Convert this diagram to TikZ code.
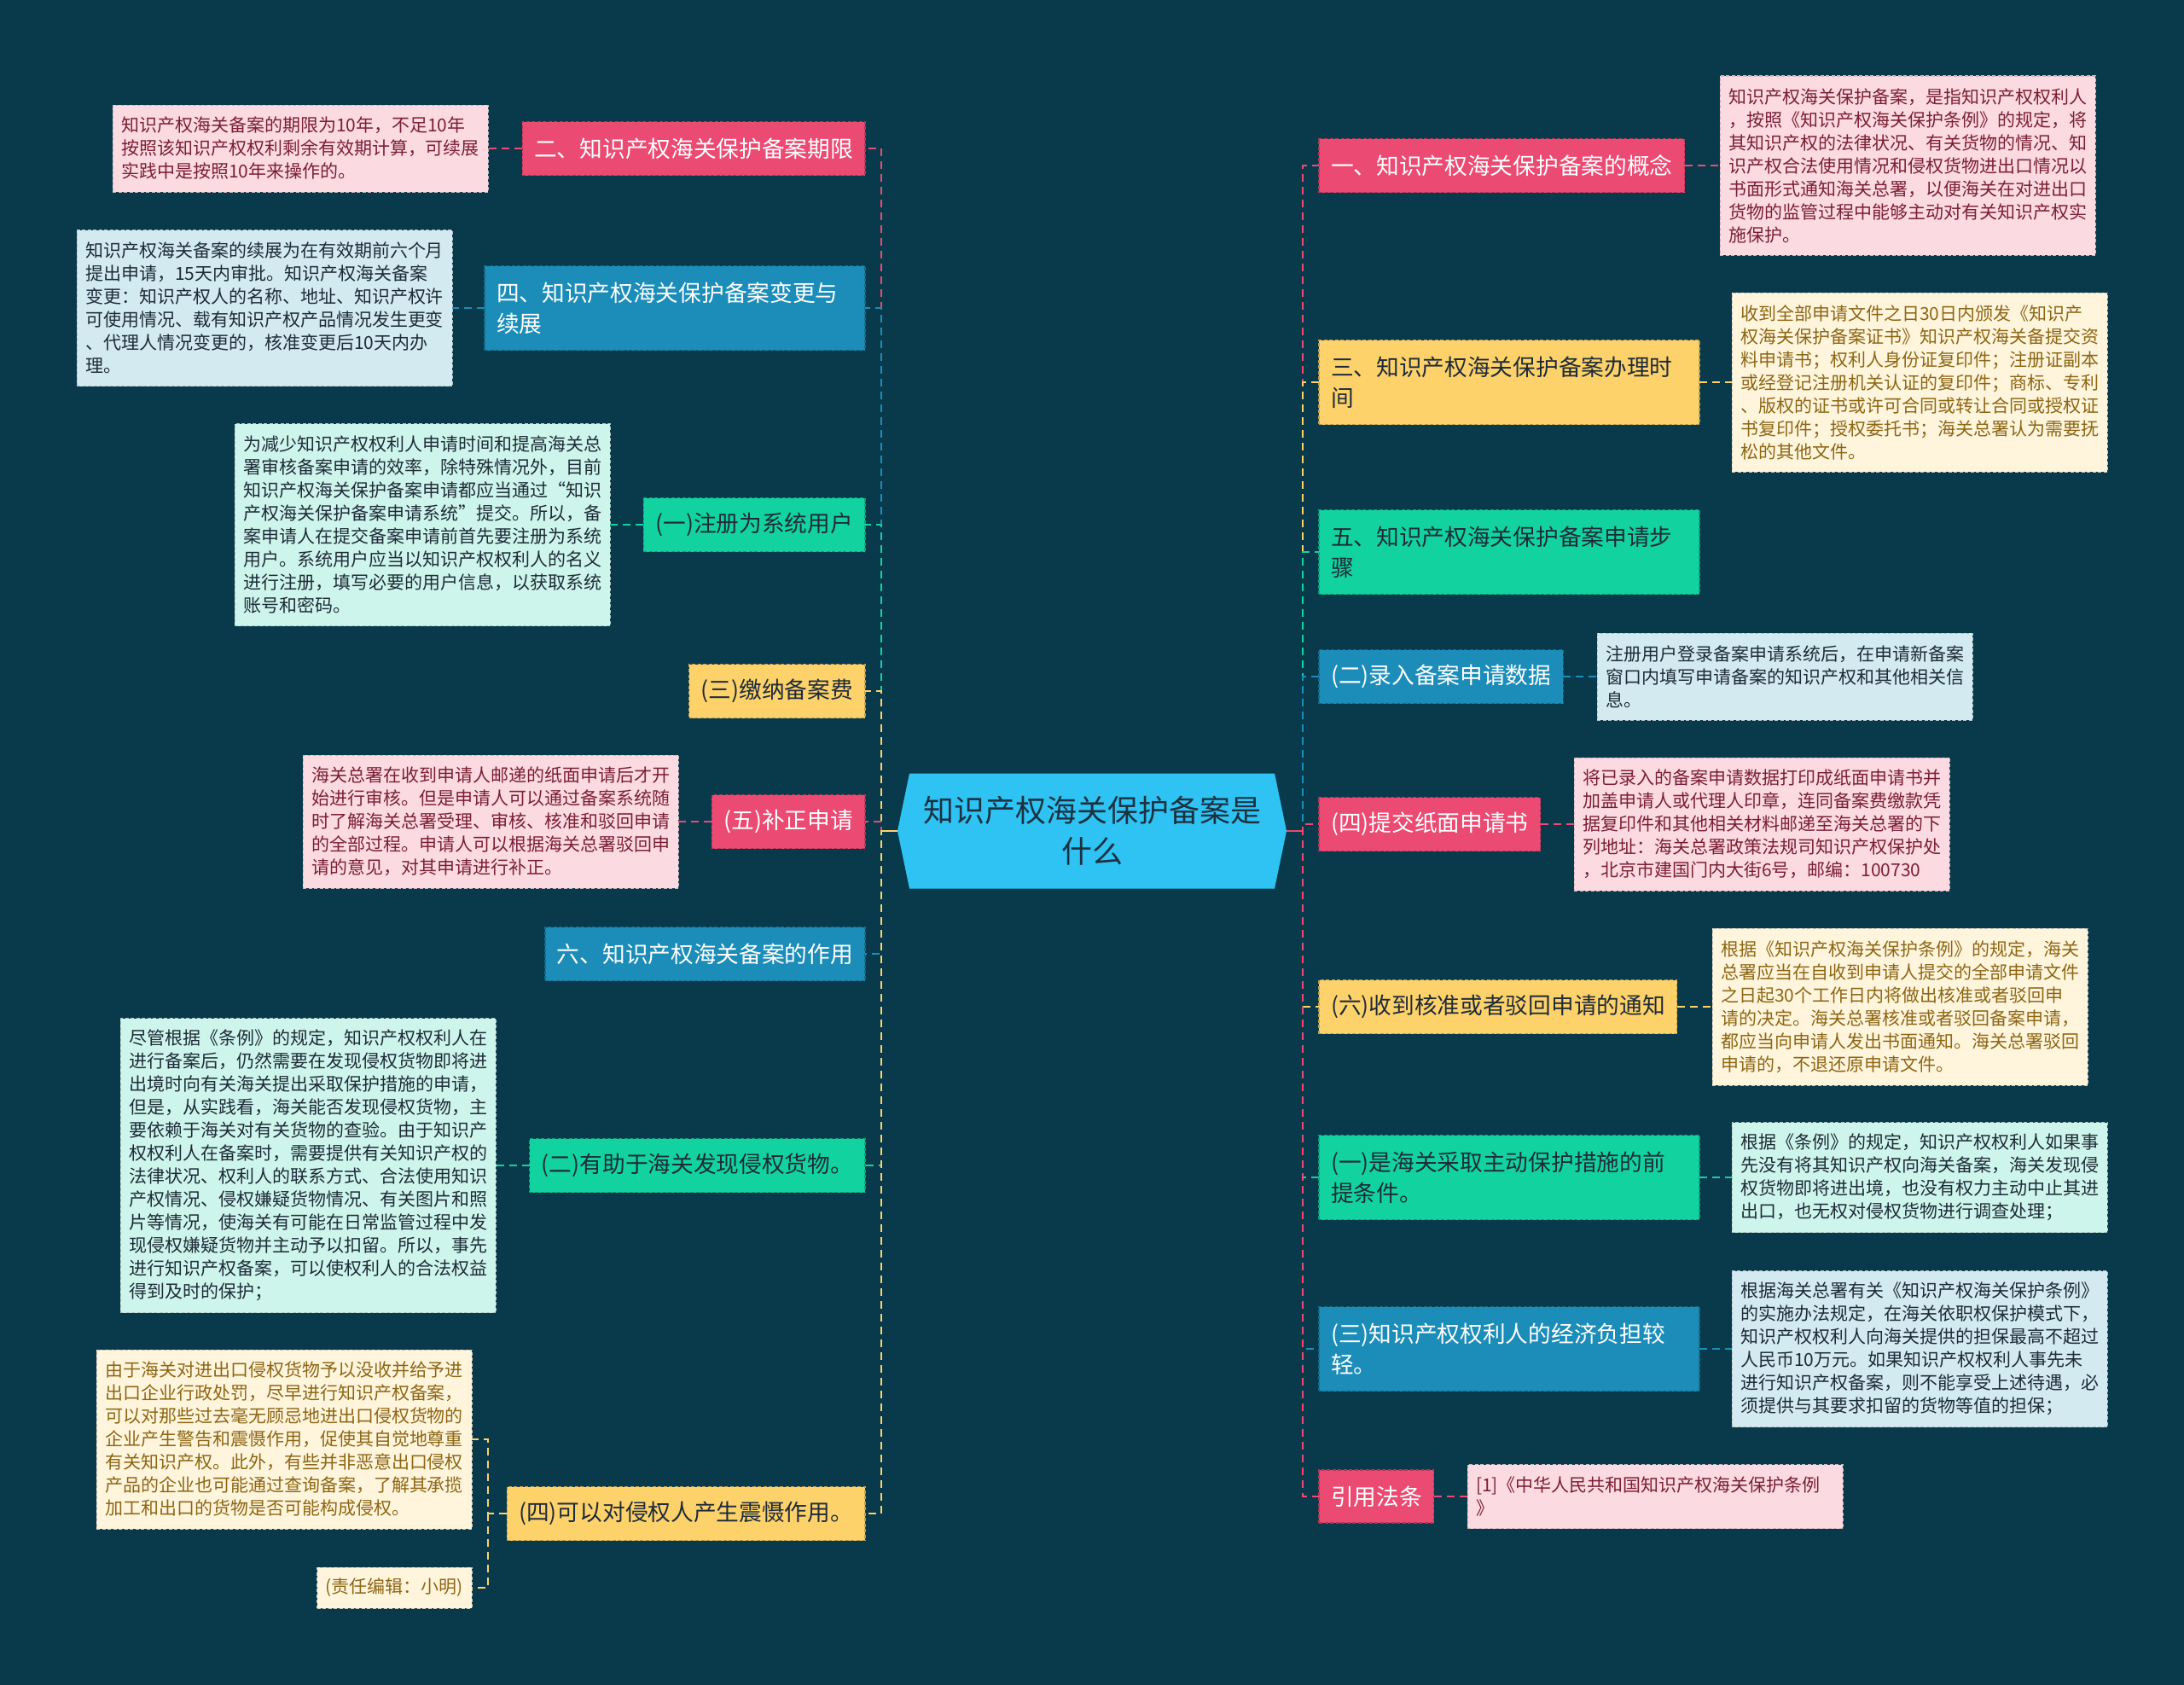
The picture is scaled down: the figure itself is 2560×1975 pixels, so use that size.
\documentclass[tikz,border=0pt]{standalone}
\usepackage{fontspec}
\setmainfont{Noto Sans CJK SC}
\pgfdeclarelayer{back}
\pgfsetlayers{back,main}
\definecolor{bg}{HTML}{093A4C}
\definecolor{cpink}{HTML}{EB4A72}
\definecolor{cblue}{HTML}{1B8DB8}
\definecolor{cgreen}{HTML}{12D3A0}
\definecolor{cyellow}{HTML}{FDD26B}
\definecolor{ccenter}{HTML}{2EC3F2}
\definecolor{ctext}{HTML}{1B3142}
\definecolor{lpink}{HTML}{FCDAE2}
\definecolor{lblue}{HTML}{D3EAF1}
\definecolor{lmint}{HTML}{CEF5EB}
\definecolor{lcream}{HTML}{FFF5DC}
\definecolor{tpink}{HTML}{7A1F33}
\definecolor{tdark}{HTML}{1E2B38}
\definecolor{tbrown}{HTML}{8C6615}
\tikzset{
  every node/.style={inner sep=0pt, outer sep=0pt},
  mainbox/.style={draw=#1!75!black, fill=#1, line width=1.2pt, dash pattern=on 4pt off 2.5pt,
    inner xsep=14pt, inner ysep=0pt, align=left, font=\fontsize{26.7pt}{36pt}\selectfont},
  mp/.style={mainbox=cpink, text=white},
  mb/.style={mainbox=cblue, text=white},
  mg/.style={mainbox=cgreen, text=tdark},
  my/.style={mainbox=cyellow, text=tdark},
  two/.style={text width=418pt, minimum height=99pt},
  one/.style={minimum height=63pt},
  detail/.style={draw=#1!60!gray, fill=#1, line width=1pt, dash pattern=on 4pt off 2.5pt,
    inner xsep=10pt, inner ysep=0pt, align=left, font=\fontsize{21pt}{27pt}\selectfont},
  dw/.style={text width=420pt},
  dp/.style={detail=lpink, text=tpink},
  db/.style={detail=lblue, text=tdark},
  dm/.style={detail=lmint, text=tdark},
  dc/.style={detail=lcream, text=tbrown},
  conn/.style={draw=#1, line width=2.5pt, dash pattern=on 9pt off 6pt},
}
\begin{document}
\begin{tikzpicture}[x=1pt,y=-1pt]
\begin{pgfonlayer}{back}
\fill[bg] (0,0) rectangle (2560,1975);
\end{pgfonlayer}
\useasboundingbox (0,0) rectangle (2560,1975);

% ---------- root ----------
\node[minimum width=456pt, minimum height=135pt, align=center, text=ctext,
  font=\fontsize{36pt}{48pt}\selectfont] (root) at (1280,974) {知识产权海关保护备案是\\什么};
\begin{pgfonlayer}{back}
\fill[ccenter] ([xshift=14pt]root.north west) -- ([xshift=-14pt]root.north east) -- (root.east)
  -- ([xshift=-14pt]root.south east) -- ([xshift=14pt]root.south west) -- (root.west) -- cycle;
\end{pgfonlayer}
\coordinate (sl) at (1033,974);
\coordinate (sr) at (1527,974);

% ---------- left main nodes ----------
\node[mp, one, anchor=east] (L1) at (1014,174) {二、知识产权海关保护备案期限};
\node[mb, two, anchor=east] (L2) at (1014,361) {四、知识产权海关保护备案变更与\\续展};
\node[mg, one, anchor=east] (L3) at (1014,615) {(一)注册为系统用户};
\node[my, one, anchor=east] (L4) at (1014,810) {(三)缴纳备案费};
\node[mp, one, anchor=east] (L5) at (1014,963) {(五)补正申请};
\node[mb, one, anchor=east] (L6) at (1014,1118) {六、知识产权海关备案的作用};
\node[mg, one, anchor=east] (L7) at (1014,1366) {(二)有助于海关发现侵权货物。};
\node[my, one, anchor=east] (L8) at (1014,1774) {(四)可以对侵权人产生震慑作用。};

% ---------- left details ----------
\node[dp, dw, minimum height=102pt, anchor=east] (L1d) at (572,174) {知识产权海关备案的期限为10年，不足10年\\按照该知识产权权利剩余有效期计算，可续展\\实践中是按照10年来操作的。};
\node[db, dw, minimum height=183pt, anchor=east] (L2d) at (530,361) {知识产权海关备案的续展为在有效期前六个月\\提出申请，15天内审批。知识产权海关备案\\变更：知识产权人的名称、地址、知识产权许\\可使用情况、载有知识产权产品情况发生更变\\、代理人情况变更的，核准变更后10天内办\\理。};
\node[dm, dw, minimum height=237pt, anchor=east] (L3d) at (715,615) {为减少知识产权权利人申请时间和提高海关总\\署审核备案申请的效率，除特殊情况外，目前\\知识产权海关保护备案申请都应当通过“知识\\产权海关保护备案申请系统”提交。所以，备\\案申请人在提交备案申请前首先要注册为系统\\用户。系统用户应当以知识产权权利人的名义\\进行注册，填写必要的用户信息，以获取系统\\账号和密码。};
\node[dp, dw, minimum height=156pt, anchor=east] (L5d) at (795,963) {海关总署在收到申请人邮递的纸面申请后才开\\始进行审核。但是申请人可以通过备案系统随\\时了解海关总署受理、审核、核准和驳回申请\\的全部过程。申请人可以根据海关总署驳回申\\请的意见，对其申请进行补正。};
\node[dm, dw, minimum height=345pt, anchor=east] (L7d) at (581,1366) {尽管根据《条例》的规定，知识产权权利人在\\进行备案后，仍然需要在发现侵权货物即将进\\出境时向有关海关提出采取保护措施的申请，\\但是，从实践看，海关能否发现侵权货物，主\\要依赖于海关对有关货物的查验。由于知识产\\权权利人在备案时，需要提供有关知识产权的\\法律状况、权利人的联系方式、合法使用知识\\产权情况、侵权嫌疑货物情况、有关图片和照\\片等情况，使海关有可能在日常监管过程中发\\现侵权嫌疑货物并主动予以扣留。所以，事先\\进行知识产权备案，可以使权利人的合法权益\\得到及时的保护；};
\node[dc, dw, minimum height=210pt, anchor=east] (L8a) at (553,1687) {由于海关对进出口侵权货物予以没收并给予进\\出口企业行政处罚，尽早进行知识产权备案，\\可以对那些过去毫无顾忌地进出口侵权货物的\\企业产生警告和震慑作用，促使其自觉地尊重\\有关知识产权。此外，有些并非恶意出口侵权\\产品的企业也可能通过查询备案，了解其承揽\\加工和出口的货物是否可能构成侵权。};
\node[dc, minimum height=48pt, anchor=east] (L8b) at (553,1861) {(责任编辑：小明)};
\coordinate (kj) at (572,1774);

% ---------- right main nodes ----------
\node[mp, one, anchor=west] (R1) at (1546,194) {一、知识产权海关保护备案的概念};
\node[my, two, anchor=west] (R2) at (1546,448) {三、知识产权海关保护备案办理时\\间};
\node[mg, two, anchor=west] (R3) at (1546,647) {五、知识产权海关保护备案申请步\\骤};
\node[mb, one, anchor=west] (R4) at (1546,793) {(二)录入备案申请数据};
\node[mp, one, anchor=west] (R5) at (1546,966) {(四)提交纸面申请书};
\node[my, one, anchor=west] (R6) at (1546,1180) {(六)收到核准或者驳回申请的通知};
\node[mg, two, anchor=west] (R7) at (1546,1380) {(一)是海关采取主动保护措施的前\\提条件。};
\node[mb, two, anchor=west] (R8) at (1546,1581) {(三)知识产权权利人的经济负担较\\轻。};
\node[mp, minimum height=62pt, anchor=west] (R9) at (1546,1754) {引用法条};

% ---------- right details ----------
\node[dp, dw, minimum height=210pt, anchor=west] (R1d) at (2016,194) {知识产权海关保护备案，是指知识产权权利人\\，按照《知识产权海关保护条例》的规定，将\\其知识产权的法律状况、有关货物的情况、知\\识产权合法使用情况和侵权货物进出口情况以\\书面形式通知海关总署，以便海关在对进出口\\货物的监管过程中能够主动对有关知识产权实\\施保护。};
\node[dc, dw, minimum height=210pt, anchor=west] (R2d) at (2030,448) {收到全部申请文件之日30日内颁发《知识产\\权海关保护备案证书》知识产权海关备提交资\\料申请书；权利人身份证复印件；注册证副本\\或经登记注册机关认证的复印件；商标、专利\\、版权的证书或许可合同或转让合同或授权证\\书复印件；授权委托书；海关总署认为需要抚\\松的其他文件。};
\node[db, dw, minimum height=102pt, anchor=west] (R4d) at (1872,793) {注册用户登录备案申请系统后，在申请新备案\\窗口内填写申请备案的知识产权和其他相关信\\息。};
\node[dp, dw, minimum height=156pt, anchor=west] (R5d) at (1845,966) {将已录入的备案申请数据打印成纸面申请书并\\加盖申请人或代理人印章，连同备案费缴款凭\\据复印件和其他相关材料邮递至海关总署的下\\列地址：海关总署政策法规司知识产权保护处\\，北京市建国门内大街6号，邮编：100730};
\node[dc, dw, minimum height=184pt, anchor=west] (R6d) at (2007,1180) {根据《知识产权海关保护条例》的规定，海关\\总署应当在自收到申请人提交的全部申请文件\\之日起30个工作日内将做出核准或者驳回申\\请的决定。海关总署核准或者驳回备案申请，\\都应当向申请人发出书面通知。海关总署驳回\\申请的，不退还原申请文件。};
\node[dm, dw, minimum height=129pt, anchor=west] (R7d) at (2030,1380) {根据《条例》的规定，知识产权权利人如果事\\先没有将其知识产权向海关备案，海关发现侵\\权货物即将进出境，也没有权力主动中止其进\\出口，也无权对侵权货物进行调查处理；};
\node[db, dw, minimum height=183pt, anchor=west] (R8d) at (2030,1581) {根据海关总署有关《知识产权海关保护条例》\\的实施办法规定，在海关依职权保护模式下，\\知识产权权利人向海关提供的担保最高不超过\\人民币10万元。如果知识产权权利人事先未\\进行知识产权备案，则不能享受上述待遇，必\\须提供与其要求扣留的货物等值的担保；};
\node[dp, dw, minimum height=75pt, anchor=west] (R9d) at (1720,1754) {[1]《中华人民共和国知识产权海关保护条例\\》};

% ---------- connectors: root to main nodes ----------
\draw[conn=cpink]   (root.west) -- (sl) |- (L1.east);
\draw[conn=cblue]   (root.west) -- (sl) |- (L2.east);
\draw[conn=cgreen]  (root.west) -- (sl) |- (L3.east);
\draw[conn=cyellow] (root.west) -- (sl) |- (L4.east);
\draw[conn=cpink]   (root.west) -- (sl) |- (L5.east);
\draw[conn=cblue]   (root.west) -- (sl) |- (L6.east);
\draw[conn=cgreen]  (root.west) -- (sl) |- (L7.east);
\draw[conn=cyellow] (root.west) -- (sl) |- (L8.east);
\draw[cyellow, line width=2.5pt] (root.west) -- (sl);

\draw[conn=cpink]   (root.east) -- (sr) |- (R1.west);
\draw[conn=cyellow] (root.east) -- (sr) |- (R2.west);
\draw[conn=cgreen]  (root.east) -- (sr) |- (R3.west);
\draw[conn=cblue]   (root.east) -- (sr) |- (R4.west);
\draw[conn=cpink]   (root.east) -- (sr) |- (R5.west);
\draw[conn=cyellow] (root.east) -- (sr) |- (R6.west);
\draw[conn=cgreen]  (root.east) -- (sr) |- (R7.west);
\draw[conn=cblue]   (root.east) -- (sr) |- (R8.west);
\draw[conn=cpink]   (root.east) -- (sr) |- (R9.west);
\draw[cpink, line width=2.5pt] (root.east) -- (sr);

% ---------- connectors: main nodes to details ----------
\draw[conn=cpink]   (L1.west) -- (L1d.east);
\draw[conn=cblue]   (L2.west) -- (L2d.east);
\draw[conn=cgreen]  (L3.west) -- (L3d.east);
\draw[conn=cpink]   (L5.west) -- (L5d.east);
\draw[conn=cgreen]  (L7.west) -- (L7d.east);
\draw[conn=cyellow] (L8.west) -- (kj) |- (L8a.east);
\draw[conn=cyellow] (kj) |- (L8b.east);

\draw[conn=cpink]   (R1.east) -- (R1d.west);
\draw[conn=cyellow] (R2.east) -- (R2d.west);
\draw[conn=cblue]   (R4.east) -- (R4d.west);
\draw[conn=cpink]   (R5.east) -- (R5d.west);
\draw[conn=cyellow] (R6.east) -- (R6d.west);
\draw[conn=cgreen]  (R7.east) -- (R7d.west);
\draw[conn=cblue]   (R8.east) -- (R8d.west);
\draw[conn=cpink]   (R9.east) -- (R9d.west);
\end{tikzpicture}
\end{document}
